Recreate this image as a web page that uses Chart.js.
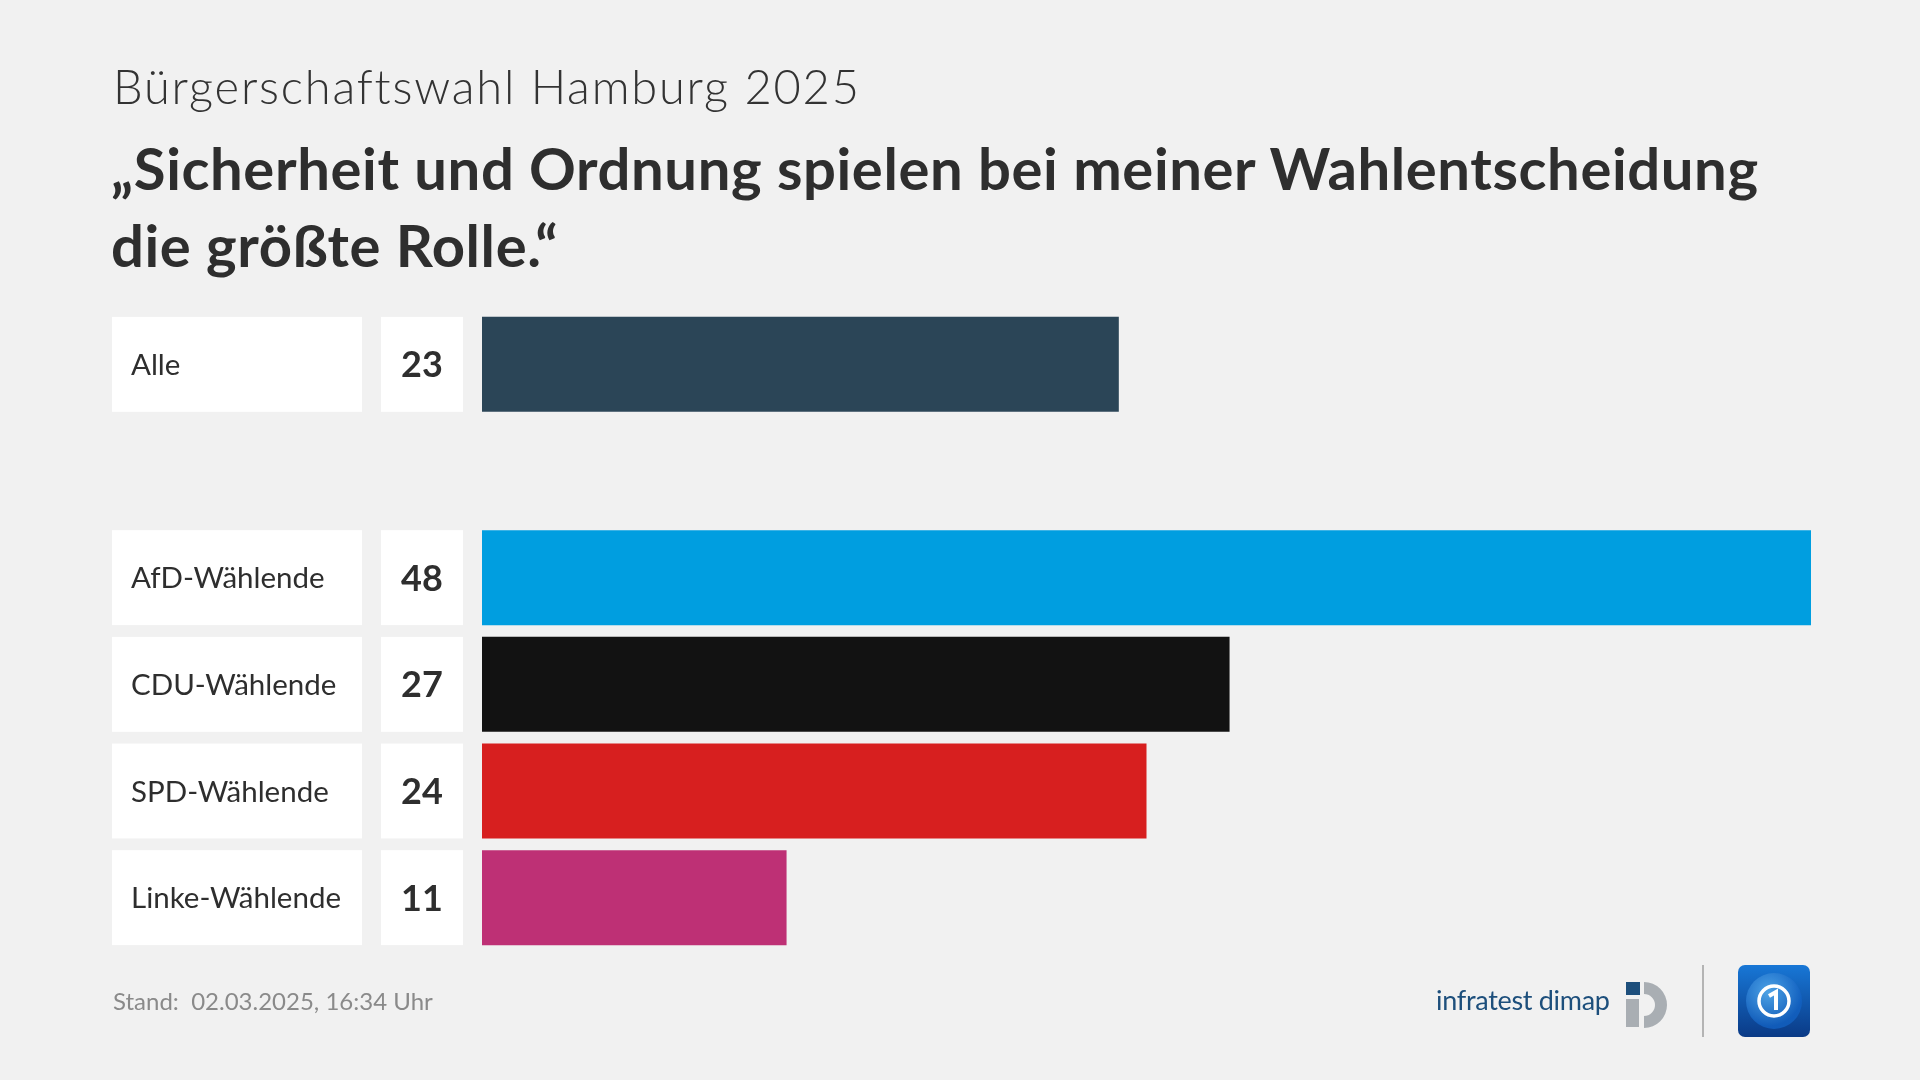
<!DOCTYPE html>
<html lang="de">
<head>
<meta charset="utf-8">
<title>Bürgerschaftswahl Hamburg 2025</title>
<script src="https://cdn.jsdelivr.net/npm/chart.js@4/dist/chart.umd.min.js"></script>
<style>
  html, body { margin:0; padding:0; background:#f1f1f1; }
  #wrap { position:relative; width:1920px; height:1080px; background:#f1f1f1; overflow:hidden; font-family: Lato, "Open Sans", sans-serif; color:#2e2e2e; }
  #c { position:absolute; left:0; top:0; }
  .t1 { position:absolute; left:113px; top:56px; font-size:47px; font-weight:300; letter-spacing:1.8px; line-height:60px; white-space:nowrap; color:#333; }
  .t2 { position:absolute; left:111px; top:129px; font-size:58px; font-weight:700; letter-spacing:0.6px; line-height:77px; white-space:nowrap; color:#2e2e2e; }
  .foot { position:absolute; left:113px; top:984px; font-size:24px; color:#8a8a8a; white-space:pre; line-height:34px; }
  .brand { position:absolute; left:1436px; top:982px; font-size:27px; color:#1d4f7c; line-height:36px; letter-spacing:-0.3px; white-space:nowrap; }
  .sep { position:absolute; left:1702px; top:965px; width:2px; height:72px; background:#b4b4b4; }
  .logo { position:absolute; left:1620px; top:980px; }
  .ard { position:absolute; left:1738px; top:965px; }
</style>
</head>
<body>
<div id="wrap">
  <canvas id="c" width="1920" height="1080"></canvas>
  <div class="t1">Bürgerschaftswahl Hamburg 2025</div>
  <div class="t2">„Sicherheit und Ordnung spielen bei meiner Wahlentscheidung<br>die größte Rolle.“</div>
  <div class="foot">Stand:  02.03.2025, 16:34 Uhr</div>
  <div class="brand">infratest dimap</div>
  <svg class="logo" width="52" height="50" viewBox="0 0 52 50">
    <rect x="6" y="2" width="14" height="13" fill="#1d4f7c"/>
    <rect x="6" y="19" width="13" height="28" fill="#a9aeb3"/>
    <path d="M24 2 A23 23 0 1 1 24 48 L24 36 A11 11 0 1 0 24 14 Z" fill="#a9aeb3"/>
  </svg>
  <div class="sep"></div>
  <svg class="ard" width="72" height="72" viewBox="0 0 72 72">
    <defs>
      <linearGradient id="g" x1="0" y1="0" x2="0" y2="1">
        <stop offset="0" stop-color="#1877d6"/>
        <stop offset="1" stop-color="#0a3a86"/>
      </linearGradient>
      <radialGradient id="gl" cx="0.4" cy="0.35" r="0.6">
        <stop offset="0" stop-color="#5db3f0"/>
        <stop offset="1" stop-color="#1261c2"/>
      </radialGradient>
    </defs>
    <rect x="0" y="0" width="72" height="72" rx="7" fill="url(#g)"/>
    <circle cx="36" cy="36" r="28" fill="url(#gl)" opacity="0.8"/>
    <circle cx="36" cy="36" r="15" fill="none" stroke="#ffffff" stroke-width="3.5"/>
    <path d="M31 31 L38 27 L38 45" fill="none" stroke="#ffffff" stroke-width="4"/>
  </svg>
</div>
<script>
// ---- data ----
const categories = ['Alle', '', 'AfD-Wählende', 'CDU-Wählende', 'SPD-Wählende', 'Linke-Wählende'];
const values = [23, null, 48, 27, 24, 11];
const barColors = ['#2b4557', 'rgba(0,0,0,0)', '#009ee0', '#121212', '#d71f1f', '#be3075'];
const axisMax = 48;

const boxPlugin = {
  id: 'boxes',
  afterDatasetsDraw(chart) {
    const ctx = chart.ctx;
    const meta = chart.getDatasetMeta(0);
    ctx.save();
    meta.data.forEach((bar, i) => {
      const v = values[i];
      if (v === null || v === undefined) return;
      const top = bar.y - bar.height / 2;
      const h = bar.height;
      ctx.fillStyle = '#ffffff';
      ctx.fillRect(112, top, 250, h);
      ctx.fillRect(381, top, 82, h);
      ctx.fillStyle = '#2e2e2e';
      ctx.textBaseline = 'alphabetic';
      ctx.textAlign = 'left';
      ctx.font = '400 29.5px Lato';
      ctx.fillText(categories[i], 131, bar.y + 10.5);
      ctx.textAlign = 'center';
      ctx.font = '700 36px Lato';
      ctx.fillText(String(v), 422, bar.y + 13);
    });
    ctx.restore();
  }
};

new Chart(document.getElementById('c'), {
  type: 'bar',
  data: {
    labels: categories,
    datasets: [{
      data: values,
      backgroundColor: barColors,
      borderWidth: 0,
      barPercentage: 1,
      categoryPercentage: 0.89
    }]
  },
  options: {
    indexAxis: 'y',
    responsive: false,
    animation: false,
    devicePixelRatio: 1,
    layout: { padding: { left: 482, right: 109, top: 311, bottom: 129 } },
    plugins: { legend: { display: false }, tooltip: { enabled: false }, title: { display: false } },
    scales: {
      x: { display: false, min: 0, max: axisMax, grid: { display: false } },
      y: { display: false, grid: { display: false } }
    }
  },
  plugins: [boxPlugin]
});
</script>
</body>
</html>
